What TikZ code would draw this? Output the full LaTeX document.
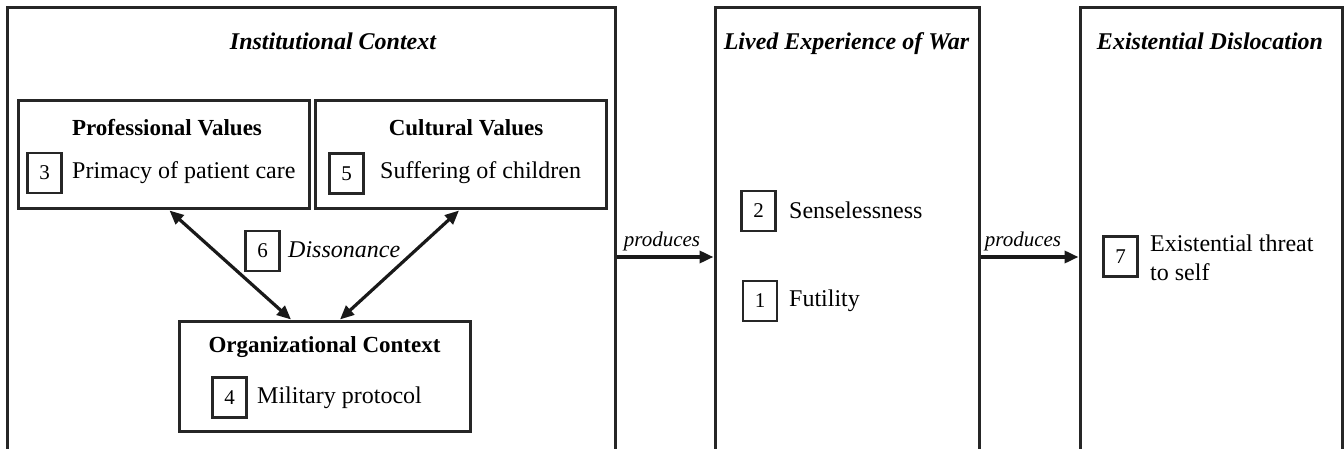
\documentclass[tikz,border=0pt]{standalone}
\usepackage{fontspec}
\setmainfont{Liberation Serif}
\usetikzlibrary{arrows.meta}
\tikzset{
  panel/.style={draw=black!85, line width=3pt, rectangle, minimum height=470pt, inner sep=0pt},
  groupbox/.style={draw=black!85, line width=3pt, rectangle, minimum width=291pt, inner sep=0pt},
  numbox/.style={draw=black!85, line width=2.6pt, rectangle, minimum width=34pt, minimum height=40pt, inner sep=0pt, font=\fontsize{21}{24}\selectfont},
  ptitle/.style={inner sep=0pt, anchor=base, font=\fontsize{24}{29}\selectfont\bfseries\itshape},
  gtitle/.style={inner sep=0pt, font=\fontsize{23}{28}\selectfont\bfseries},
  item/.style={inner sep=0pt, anchor=west, align=left, font=\fontsize{24}{29}\selectfont},
  flowlbl/.style={inner sep=0pt, font=\fontsize{21}{25}\selectfont\itshape},
  flow/.style={line width=3.5pt, draw=black!90, -{Triangle[length=14pt,width=12pt]}},
  twoway/.style={line width=3.2pt, draw=black!90, {Triangle[length=14pt,width=12pt]}-{Triangle[length=14pt,width=12pt]}}
}
\begin{document}
\begin{tikzpicture}[x=1pt,y=-1pt]
\clip (0,0) rectangle (1344,449);
\fill[white] (0,0) rectangle (1344,449);
% panels (open at the bottom edge of the picture)
\node[panel, minimum width=608pt] (inst) at (311,243) {};
\node[panel, minimum width=264pt] (lived) at (847,243) {};
\node[panel, minimum width=262pt] (exist) at (1211,243) {};
\node[ptitle] (tinst) at (333,50) {Institutional Context};
\node[ptitle] (tlived) at (846.5,50) {Lived Experience of War};
\node[ptitle] (texist) at (1210,50) {Existential Dislocation};
% inner group boxes
\node[groupbox, minimum height=108pt] (prof) at (163.5,155) {};
\node[groupbox, minimum height=108pt] (cult) at (460.5,155) {};
\node[groupbox, minimum height=110pt] (org) at (324.5,376) {};
\node[gtitle] (tprof) at (167,128) {Professional Values};
\node[gtitle] (tcult) at (466,128) {Cultural Values};
\node[gtitle] (torg) at (324.5,347) {Organizational Context};
% numbered items
\node[numbox] (n3) at (44.5,173) {3};
\node[item] (i3) at (72,173) {Primacy of patient care};
\node[numbox] (n5) at (346.5,173.5) {5};
\node[item] (i5) at (380,173) {Suffering of children};
\node[numbox] (n6) at (262.5,251) {6};
\node[item, font=\fontsize{24}{29}\selectfont\itshape] (i6) at (288,250) {Dissonance};
\node[numbox] (n4) at (229.5,397.5) {4};
\node[item] (i4) at (257,398) {Military protocol};
\node[numbox] (n2) at (758.5,211) {2};
\node[item] (i2) at (789,210) {Senselessness};
\node[numbox] (n1) at (760,301) {1};
\node[item] (i1) at (789,301) {Futility};
\node[numbox] (n7) at (1120.5,256.5) {7};
\node[item] (i7) at (1150,257.5) {Existential threat\\to self};
% connectors
\draw[twoway] ([xshift=6pt]prof.south) -- ([xshift=-33.5pt]org.north);
\draw[twoway] ([xshift=-1.5pt]cult.south) -- ([xshift=15.5pt]org.north);
\coordinate (flowy) at (0,257);
\draw[flow] (inst.east |- flowy) -- (lived.west |- flowy);
\draw[flow] (lived.east |- flowy) -- (exist.west |- flowy);
\node[flowlbl] (p1) at (662,241) {produces};
\node[flowlbl] (p2) at (1023,241) {produces};
\end{tikzpicture}
\end{document}
